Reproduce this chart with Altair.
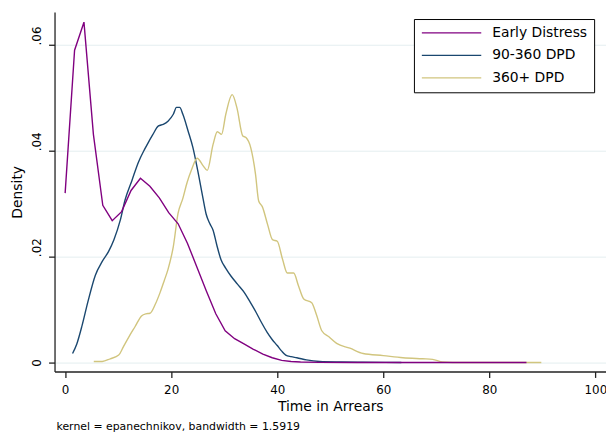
import altair as alt
import pandas as pd

series_names = ["Early Distress", "90-360 DPD", "360+ DPD"]
series_colors = ["#800080", "#1a476f", "#d1c57e"]

x_ticks = [0, 20, 40, 60, 80, 100]
y_ticks = [0, 0.02, 0.04, 0.06]

early_x = [0, 1.78, 3.55, 5.33, 7.1, 8.88, 10.65, 12.43, 14.2, 15.98, 17.76, 19.53,
           21.31, 23.08, 24.86, 26.63, 28.41, 30.18, 31.96, 33.73, 35.51, 37.29,
           39.06, 40.84, 42.61, 44.39, 48, 55, 63, 72, 80, 87]
early_y = [0.032, 0.059, 0.0643, 0.0431, 0.0297, 0.0268, 0.0285, 0.0325, 0.0348,
           0.0333, 0.0311, 0.0283, 0.0262, 0.0225, 0.0180, 0.0135, 0.0092, 0.0060,
           0.0045, 0.0035, 0.0025, 0.0016, 0.0009, 0.0004, 0.0002, 0.0001, 0.00003,
           0.00001, 0, 0, 0, 0]

mid_x = [1.4, 2.2, 3.2, 4.3, 5.7, 7.0, 8.2, 9.2, 10.4, 11.3, 12.6, 13.8, 15.0, 15.7,
         16.5, 17.6, 18.5, 19.4, 20.4, 21.0, 21.6, 22.2, 23.2, 24.1, 25.0, 26.0, 26.6,
         27.3, 27.9, 28.6, 29.4, 30.3, 31.3, 32.5, 33.8, 34.9, 36.0, 37.0, 38.1, 39.0,
         40.0, 40.8, 41.6, 42.6, 43.7, 45.5, 48.0, 52.0, 56.0, 63.4]
mid_y = [0.0017, 0.0035, 0.0070, 0.0115, 0.0165, 0.0191, 0.0210, 0.0232, 0.0269,
         0.0307, 0.0344, 0.0378, 0.0403, 0.0416, 0.0430, 0.0447, 0.0450, 0.0456,
         0.0469, 0.0482, 0.0482, 0.0469, 0.0437, 0.0406, 0.0363, 0.0310, 0.0280,
         0.0262, 0.0250, 0.0222, 0.0194, 0.0178, 0.0163, 0.0148, 0.0132, 0.0114,
         0.0095, 0.0076, 0.0057, 0.0044, 0.0032, 0.0022, 0.0014, 0.0011, 0.0009,
         0.0005, 0.0002, 0.0001, 0.00005, 0.0]

late_x = [5.4, 7.0, 8.5, 10.1, 11.0, 12.0, 13.2, 14.4, 15.2, 16.0, 17.0, 17.9, 18.7,
          19.4, 20.4, 21.3, 22.2, 23.0, 23.8, 24.9, 26.0, 26.8, 27.9, 28.7, 29.5,
          30.3, 31.5, 32.4, 33.5, 34.1, 35.0, 35.9, 36.5, 37.2, 38.2, 39.1, 40.0,
          41.0, 41.9, 43.1, 44.0, 45.0, 46.5, 47.4, 48.4, 49.8, 51.2, 53.7, 56.2,
          60.0, 63.7, 67.4, 69.3, 71.2, 75.0, 89.8]
late_y = [0.0002, 0.0002, 0.0007, 0.0014, 0.0030, 0.0048, 0.0068, 0.0088, 0.0092,
          0.0093, 0.0110, 0.0132, 0.0155, 0.0176, 0.0219, 0.0282, 0.0310, 0.0340,
          0.0363, 0.0386, 0.0372, 0.0363, 0.0412, 0.0436, 0.0431, 0.0469, 0.0506,
          0.0481, 0.0428, 0.0425, 0.0406, 0.0356, 0.0305, 0.0294, 0.0260, 0.0232,
          0.0229, 0.0195, 0.0169, 0.0169, 0.0145, 0.0120, 0.0113, 0.0090, 0.0060,
          0.0048, 0.0036, 0.0027, 0.0017, 0.0013, 0.0009, 0.0007, 0.0006, 0.0001,
          0.0, 0.0]

note_text = "kernel = epanechnikov, bandwidth = 1.5919"

rows = []
for name, xs, ys in zip(series_names, [early_x, mid_x, late_x], [early_y, mid_y, late_y]):
    for i, (xv, yv) in enumerate(zip(xs, ys)):
        rows.append({"series": name, "t": xv, "density": yv, "order": i})
df = pd.DataFrame(rows)

FONT = "DejaVu Sans"

x_enc = alt.X("t:Q",
              scale=alt.Scale(domain=[-2, 102], nice=False, zero=False),
              axis=alt.Axis(values=x_ticks, title="Time in Arrears", grid=False,
                            labelFontSize=12, labelPadding=7, labelFlush=False,
                            labelBaseline="top",
                            titleFontSize=14, titleX=278.5, titleY=39.7,
                            titleBaseline="alphabetic", titleAlign="center"))
y_enc = alt.Y("density:Q",
              scale=alt.Scale(domain=[-0.0017, 0.0662], nice=False, zero=False),
              axis=alt.Axis(values=y_ticks, title="Density", grid=True,
                            labelExpr="datum.value == 0 ? '0' : replace(format(datum.value, '.2f'), '0.', '.')",
                            labelAngle=270, labelFontSize=12, labelPadding=8,
                            labelAlign={"condition": {"test": "datum.value === 0", "value": "center"}, "value": "left"},
                            labelBaseline="alphabetic", labelFlush=False,
                            titleAngle=270, titleFontSize=14, titleX=-33, titleY=181.5,
                            titleBaseline="alphabetic", titleAlign="center"))
color_enc = alt.Color("series:N",
                      scale=alt.Scale(domain=series_names, range=series_colors),
                      legend=alt.Legend(orient="none", legendX=363, legendY=7,
                                        direction="vertical", title=None,
                                        strokeColor="black", fillColor="white",
                                        padding=7, symbolType="stroke",
                                        symbolSize=3600, symbolStrokeWidth=1.4,
                                        labelFont=FONT, labelFontSize=14,
                                        labelColor="black", labelOffset=10,
                                        labelLimit=300, clipHeight=14,
                                        rowPadding=8.7))

base = alt.Chart(df).encode(x=x_enc, y=y_enc, color=color_enc, order="order:Q")

lines_linear = base.transform_filter(
    alt.datum.series == series_names[0]
).mark_line(strokeWidth=1.4, interpolate="linear")

lines_smooth = base.transform_filter(
    alt.datum.series != series_names[0]
).mark_line(strokeWidth=1.4, interpolate="monotone")

note = alt.Chart(pd.DataFrame({"note": [note_text]})).mark_text(
    align="left", baseline="alphabetic", font=FONT, fontSize=11, color="black"
).encode(x=alt.value(2), y=alt.value(422), text="note:N")

chart = alt.layer(lines_smooth, lines_linear, note).properties(
    width=557, height=363,
    padding={"left": 47, "top": 2, "right": 0, "bottom": 62},
    autosize=alt.AutoSizeParams(type="none"),
    background="white",
).configure_view(stroke=None).configure_axis(
    labelFont=FONT, titleFont=FONT, labelColor="black", titleColor="black",
    titleFontWeight="normal", domainColor="#222222", domainWidth=1.3,
    tickColor="#222222", tickWidth=1.3, tickSize=6,
    gridColor="#e4eef0", gridWidth=1,
)

chart.save("out.html", embed_options={"renderer": "svg", "actions": False})
